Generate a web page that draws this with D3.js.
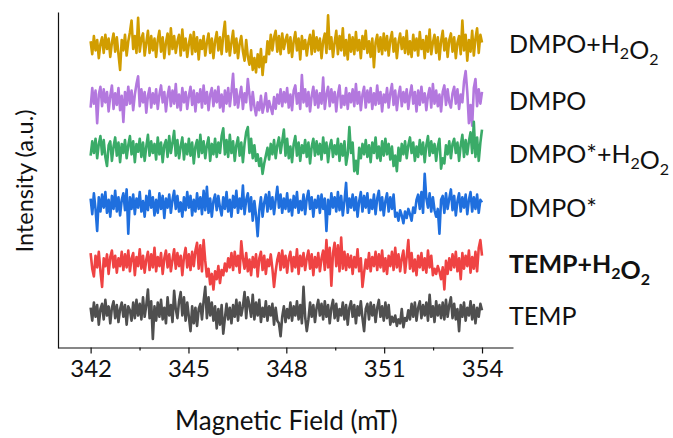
<!DOCTYPE html>
<html>
<head>
<meta charset="utf-8">
<script src="https://cdn.jsdelivr.net/npm/d3@7"></script>
<style>
  body { margin: 0; background: #fff; }
  text { font-family: Lato, "Open Sans", sans-serif; fill: #111; }
</style>
</head>
<body>
<script>
// field range of the traces (mT)
var fieldStart = 342, fieldEnd = 354;
var xTicks = [342, 345, 348, 351, 354];
var xMinorTicks = [343.5, 346.5, 349.5, 352.5];

// trace names, top to bottom
var names = ["DMPO+H2O2", "DMPO", "DMPO*+H2O2", "DMPO*", "TEMP+H2O2", "TEMP"];
var colors = ["#d19d00", "#b378de", "#3aab68", "#1f6fde", "#ef4343", "#4f4f4f"];
// vertical offset of each trace (a.u.)
var offsets = [232, 191, 152, 110, 65, 27];

// noise, a.u. around each offset
var dmpoH2O2 = [4,-6,8,-3,5,-9,2,7,-5,9,-2,6,-8,3,10,-4,7,-6,-18,5,
  -3,9,-7,4,11,20,-2,8,-5,22,-4,6,10,-7,3,12,-5,8,-3,6,
  -8,5,12,-4,7,-9,3,10,-6,14,-2,8,-5,4,9,-7,13,-3,6,-8,
  2,9,-6,11,-4,7,-10,5,-2,8,-7,3,10,-5,6,-9,4,11,-3,7,
  -6,9,19,-4,8,-7,3,12,-5,6,-9,2,8,-4,-11,5,-8,-14,-3,-18,
  -9,-20,-6,-16,-2,-22,-8,-12,4,-6,9,-3,7,12,-4,8,-6,10,-2,5,
  9,-5,7,-8,4,11,-3,6,-10,8,-2,5,-7,3,9,-6,12,-4,7,-3,
  6,-9,4,10,-5,24,-2,7,-8,3,12,-6,8,-3,14,-7,5,-10,9,-4,
  7,-6,11,-3,5,-9,8,-2,12,-5,4,-8,6,-16,3,9,-4,7,-6,10,
  -3,8,-7,5,11,-4,6,-9,3,10,-2,7,-5,12,-6,4,-8,9,-3,6,
  -7,11,-2,5,-9,8,-4,13,-6,3,9,-5,7,-10,4,12,-3,6,-8,5,
  10,-4,7,-9,3,8,-6,20,-3,9,-11,5,-4,12,-7,6,14,-5,9,3];
var dmpo = [-6,9,-3,7,-18,4,10,-5,8,-2,6,-9,3,11,-7,5,-4,9,-8,3,
  -17,6,-4,10,-3,7,-8,4,12,18,-5,8,-2,6,-10,3,9,-6,5,-3,
  8,-7,4,11,-2,6,-9,3,10,-5,7,-3,12,-6,4,-8,9,-2,6,-7,
  3,10,-4,7,-9,5,-2,8,-6,11,-3,6,-8,4,9,-5,7,-2,10,-6,
  4,-9,7,-3,9,-5,6,20,-4,8,-6,3,10,-7,5,-2,16,4,-8,6,
  -5,-12,-2,-8,3,-10,-4,5,-9,-1,-6,-11,2,-7,4,-3,8,-5,6,-2,
  9,-6,4,-8,7,11,-3,5,-7,19,-2,8,-5,6,-9,3,10,-4,7,-6,
  5,-3,17,-7,4,10,-5,8,-2,6,-9,4,11,-6,3,-4,9,-7,5,-2,
  8,-5,12,-3,6,-8,4,10,-6,7,-2,9,-7,5,-4,11,-3,6,-9,4,
  -2,9,-6,5,12,-4,7,-8,3,10,-5,6,-2,8,-7,4,11,-3,6,-9,
  7,-4,10,-2,5,-8,3,9,-6,12,-3,7,-5,4,-9,6,11,-4,8,-2,
  -6,5,10,-3,8,-7,4,-2,14,22,6,-18,-4,-20,9,16,-5,8,-3,6];
var dmpoStarH2O2 = [-4,7,-2,9,-6,5,11,-3,8,-5,-12,4,7,-8,3,10,-4,6,-9,5,
  -2,8,-6,4,11,-3,7,-9,5,-1,9,-5,6,-8,3,12,-4,7,-2,5,
  -7,10,-3,6,-9,4,8,-5,11,-2,6,15,-4,8,-6,3,10,-7,5,-3,
  9,-4,6,-10,3,8,-5,12,-2,7,-6,4,10,-8,5,-3,9,-5,6,-2,
  11,17,-3,8,-5,12,-2,7,-8,4,10,-4,6,-9,5,14,18,-2,9,-6,
  4,-8,-3,-12,-6,-18,-10,-4,2,-7,5,-3,8,-6,4,10,-2,7,16,-4,
  9,-6,3,-9,5,11,-4,6,-8,4,-2,8,-5,6,-10,3,9,-4,7,-3,
  5,-7,10,-2,6,-9,3,8,-5,4,-3,9,-8,5,-4,7,-11,-3,18,-2,
  6,-16,-8,-18,2,-6,5,-3,8,-5,4,-9,6,-2,10,-6,3,-8,7,-4,
  9,-3,5,-7,3,-12,-4,-16,2,-8,5,-3,7,-6,4,10,-2,6,-8,3,
  -5,8,-3,6,-9,4,11,-4,7,-2,5,-8,3,9,-14,-6,-10,4,-3,7,
  -6,5,9,-2,6,-8,4,12,-5,8,-3,7,14,-2,22,-5,10,-8,6,16];
var dmpoStar = [5,-7,9,-3,-20,6,-5,8,-2,10,-6,4,-9,7,-3,11,-5,6,-8,4,
  9,-4,12,-22,6,-3,8,-7,5,-2,10,-5,3,-9,7,-4,11,-2,6,-8,
  4,-6,9,-3,7,-10,5,-2,8,-6,4,11,-3,7,-5,2,-9,6,-4,10,
  -2,7,-8,4,-5,9,-3,6,-7,11,-4,14,-6,5,-9,3,8,-4,7,-2,
  -8,6,-3,10,-5,4,-9,7,-2,11,-6,5,-3,15,-7,4,9,-5,6,-12,
  3,-8,-24,-4,6,-9,2,8,-5,10,-3,6,-7,4,14,-2,8,-6,5,-3,
  9,-5,4,-8,7,-2,10,-6,3,-4,8,-7,5,11,-3,6,-9,4,-2,7,
  -6,8,-3,5,-20,4,-7,9,-2,6,-5,10,-4,7,-8,3,17,-6,5,-2,
  8,-4,6,-9,3,10,-5,7,-2,9,-6,4,-3,8,-7,5,11,-4,6,-8,
  3,9,-5,6,-3,8,-9,-6,-12,-4,-8,-14,-5,-10,-3,-7,-12,-2,-6,4,
  8,-3,10,-6,24,5,-2,9,-5,6,-4,-9,-3,-22,4,7,-6,9,-3,5,
  12,-4,7,-8,3,9,-5,6,-2,8,-7,4,10,-5,6,-3,8,-6,4,2];
var tempH2O2 = [8,-4,-10,6,-3,9,-6,-18,4,-2,7,-8,5,10,-3,6,-7,4,-2,9,
  -5,7,-3,10,-6,4,8,-9,5,-2,11,-4,6,-7,3,9,-5,7,-3,12,
  -6,5,-2,8,-8,4,10,-3,7,-6,3,11,-4,8,-2,6,-9,5,12,-3,
  7,-5,9,-2,10,16,-4,14,-6,18,2,-10,-4,-16,-8,-20,-6,-12,-2,-15,
  -5,-9,0,-6,4,-3,8,-5,9,-2,6,-7,17,4,-4,8,-6,3,-9,5,
  -3,7,-10,4,9,-5,6,-8,3,-2,7,-4,-18,-6,3,8,-5,10,-3,6,
  -7,4,9,-6,5,-3,11,-8,6,-2,8,-5,4,10,-4,7,-9,5,-3,8,
  -6,4,10,-5,18,-3,12,-17,8,16,-2,14,-6,20,-4,9,-5,7,-3,6,
  -8,5,-3,11,-6,4,-18,-7,3,-4,8,-6,5,-2,9,-5,7,-3,10,-6,
  4,-8,6,-2,9,-5,12,-3,7,-6,4,10,-7,5,18,-4,8,-6,3,-9,
  6,-3,8,-5,4,-7,10,-3,6,-9,-4,-8,-2,-6,-12,-3,-20,2,-8,4,
  -5,7,-3,9,-6,4,-12,8,-4,6,-2,10,-7,5,-4,9,-6,12,18,6];
var temp = [4,-6,8,-3,6,-9,3,7,-5,10,-2,5,-8,4,9,-4,6,-7,3,8,
  -3,6,-9,5,2,-6,8,-4,10,-2,7,-5,12,-3,6,18,-4,9,-20,5,
  -6,8,-3,10,-5,4,-8,12,-2,6,-7,17,3,-4,9,16,-2,12,-6,8,
  -3,-14,5,-8,4,-10,3,7,-5,9,20,-4,12,-2,8,-6,5,-12,3,-9,
  6,-16,-4,7,-5,4,-8,6,-3,10,-6,8,-2,5,16,-4,12,6,-3,14,
  -5,8,-2,10,-7,4,-3,9,-6,5,-2,7,-9,4,-6,-8,-18,-3,5,-7,
  3,-4,8,-6,5,-2,9,-5,6,-8,20,-3,-14,-5,8,-3,6,-7,4,10,
  -2,7,-5,9,-3,6,-8,4,10,-4,7,-6,3,-2,8,-5,6,-9,4,9,
  -3,6,-8,5,-2,9,-4,-14,3,7,-5,8,-2,6,-7,4,10,-3,5,-6,
  8,-4,6,-9,-3,-7,-2,-10,-5,-8,3,-11,-4,-6,2,-5,7,-3,8,-6,
  4,9,-4,6,-2,8,-6,14,-3,5,-7,9,-2,6,-4,8,-5,10,-3,6,
  12,-4,7,-5,3,-14,6,-3,8,-6,4,-2,9,-5,6,-8,4,-3,7,2];
var series = [dmpoH2O2, dmpo, dmpoStarH2O2, dmpoStar, tempH2O2, temp];

var width = 673, height = 438;

var svg = d3.select("body").append("svg")
    .attr("width", width)
    .attr("height", height);

var x = d3.scaleLinear().domain([341.0, 354.95]).range([58, 513]);
var y = d3.scaleLinear().domain([0, 258.5]).range([348, 12]);

// traces
var line = d3.line()
    .x(function(d) { return x(d[0]); })
    .y(function(d) { return y(d[1]); });

series.forEach(function(vals, k) {
  var n = vals.length;
  var pts = vals.map(function(v, i) {
    return [fieldStart + (fieldEnd - fieldStart) * i / (n - 1), offsets[k] + v];
  });
  svg.append("path")
      .datum(pts)
      .attr("fill", "none")
      .attr("stroke", colors[k])
      .attr("stroke-width", 2.6)
      .attr("stroke-linejoin", "round")
      .attr("d", line);
});

// x axis
var xAxis = svg.append("g")
    .attr("transform", "translate(0," + y(0.4) + ")")
    .call(d3.axisBottom(x).tickValues(xTicks).tickSize(6).tickSizeOuter(0).tickPadding(6));
xAxis.select(".domain").attr("stroke", "#111").attr("stroke-width", 1.2);
xAxis.selectAll(".tick line").attr("stroke", "#111").attr("stroke-width", 1.2);
xAxis.selectAll(".tick text").attr("font-size", 24).attr("font-family", "Lato").attr("fill", "#111");

var xMinor = svg.append("g")
    .attr("transform", "translate(0," + y(0.4) + ")")
    .call(d3.axisBottom(x).tickValues(xMinorTicks).tickSize(3).tickFormat(""));
xMinor.select(".domain").remove();
xMinor.selectAll(".tick line").attr("stroke", "#111").attr("stroke-width", 1.2);

// y axis (no ticks)
var yAxis = svg.append("g")
    .attr("transform", "translate(" + x(341.0) + ",0)")
    .call(d3.axisLeft(y).tickValues([]).tickSizeOuter(0));
yAxis.select(".domain").attr("stroke", "#111").attr("stroke-width", 1.2);

// axis titles
svg.append("text")
    .attr("x", x(348))
    .attr("y", 430)
    .attr("text-anchor", "middle")
    .attr("font-size", 26)
    .text("Magnetic Field (mT)");

svg.append("text")
    .attr("transform", "translate(33,181) rotate(-90)")
    .attr("text-anchor", "middle")
    .attr("font-size", 23.5)
    .text("Intensity (a.u.)");

// trace labels, with subscripts
var labelY = [53, 110, 163, 217, 273, 325];
names.forEach(function(name, k) {
  var t = svg.append("text")
      .attr("x", 509)
      .attr("y", labelY[k])
      .attr("font-size", 25)
      .attr("font-weight", name == "TEMP+H2O2" ? "bold" : "normal");
  var parts = name.split(/(2)/);
  parts.forEach(function(p) {
    if (p == "") return;
    if (p == "2") {
      t.append("tspan").attr("font-size", 16).attr("dy", 6).text("2");
      t.append("tspan").attr("dy", -6).text("");
    } else {
      t.append("tspan").text(p);
    }
  });
});
</script>
</body>
</html>
